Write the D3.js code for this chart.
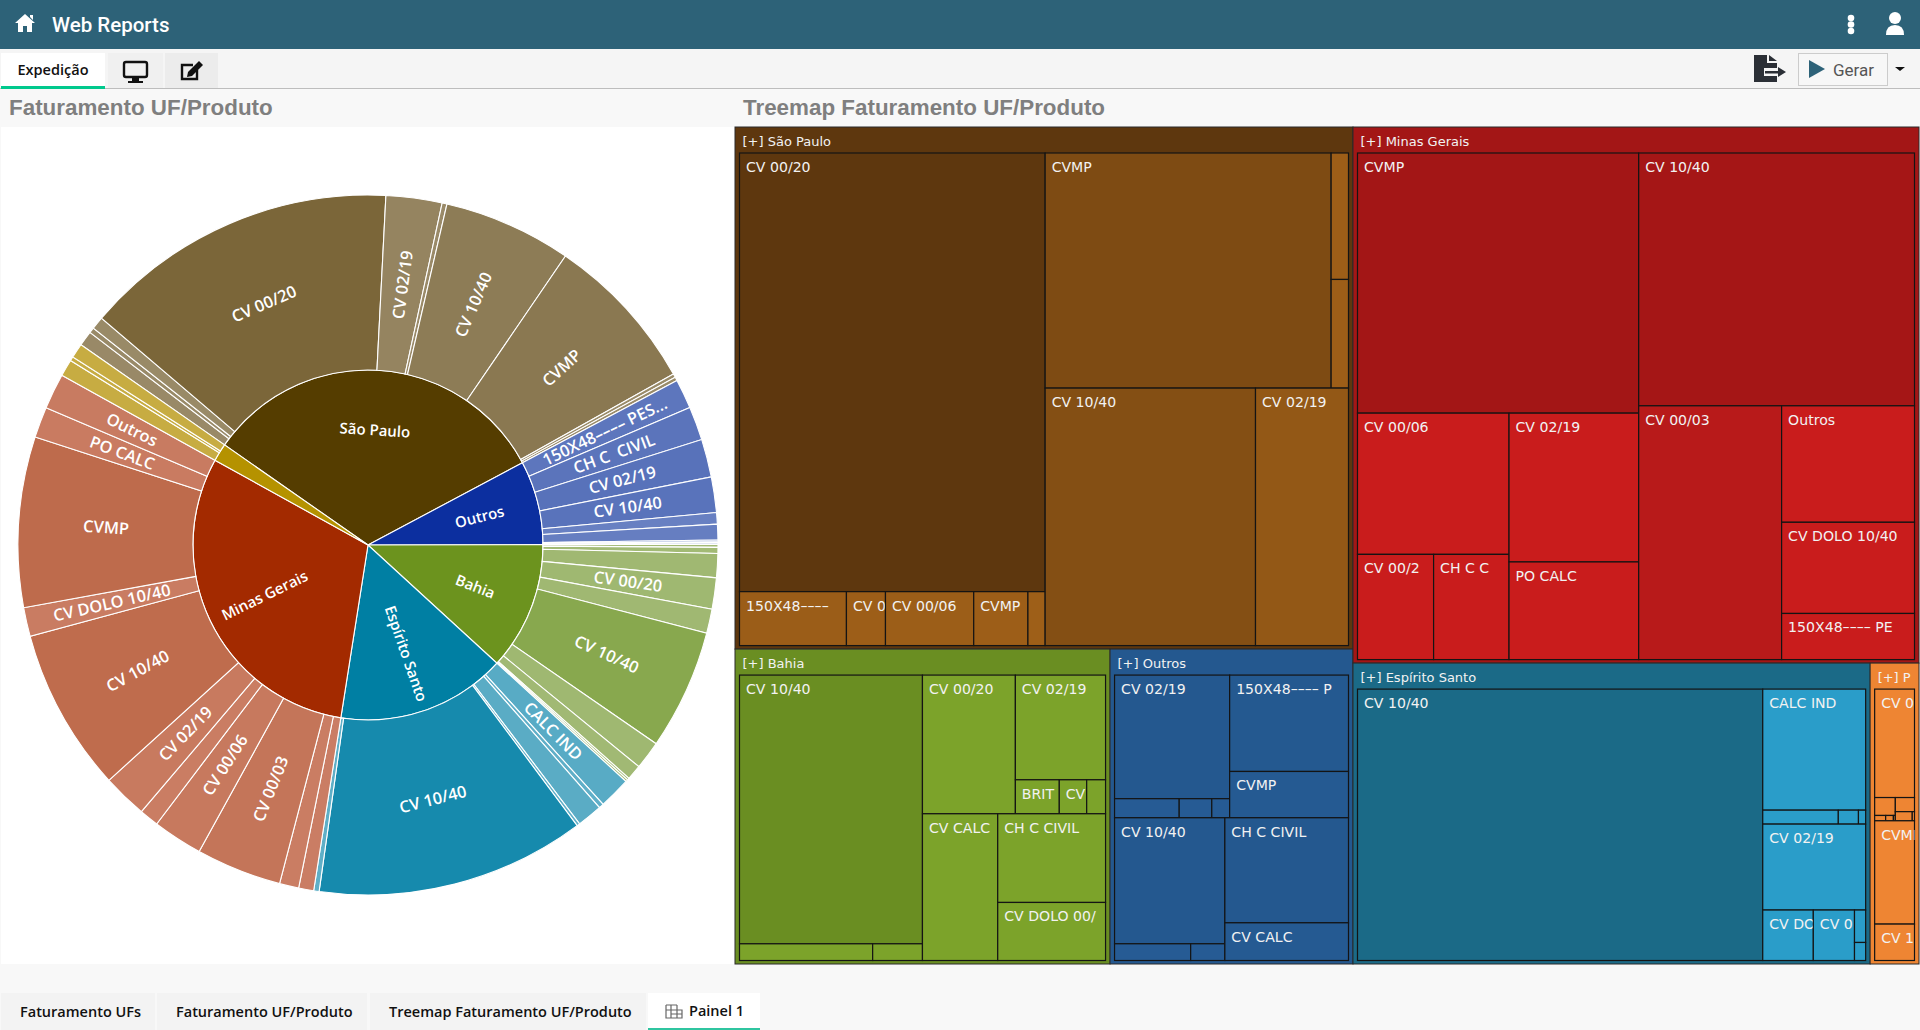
<!DOCTYPE html>
<html lang="pt-BR">
<head>
<meta charset="utf-8">
<title>Web Reports</title>
<script src="https://cdn.jsdelivr.net/npm/d3@7/dist/d3.min.js"></script>
<style>
  html, body { margin: 0; padding: 0; width: 1920px; height: 1030px; overflow: hidden; background: #f8f8f8; font-family: "Open Sans", sans-serif; }
  .abs { position: absolute; white-space: nowrap; }
  #topbar { left: 0; top: 0; width: 1920px; height: 49px; background: #2d6278; }
  #toolbar { left: 0; top: 49px; width: 1920px; height: 39px; background: #f5f5f5; border-bottom: 1px solid #bdbdbd; }
  .title { font-family: "Liberation Sans", Arial, sans-serif; font-weight: 700; font-size: 22.4px; color: #7f7f7f; }
  .tab { top: 993px; height: 37px; background: #f3f3f3; font: 600 14.5px "Open Sans", sans-serif; color: #111; line-height: 38px; box-sizing: border-box; }
  svg { position: absolute; overflow: visible; }
  #charts text { pointer-events: none; }
</style>
</head>
<body>
<div id="topbar" class="abs"></div>
<div class="abs" style="left:52px;top:13px;font:500 20.5px Roboto,sans-serif;color:#fff">Web Reports</div>
<div id="toolbar" class="abs"></div>
<div class="abs" style="left:1px;top:53px;width:104px;height:33px;background:#fff;border-bottom:3px solid #00c98d;text-align:center;font:600 14.5px/34px 'Open Sans',sans-serif;color:#111">Expedição</div>
<div class="abs" style="left:108px;top:53px;width:55px;height:35px;background:#f0f0f0"></div>
<div class="abs" style="left:165px;top:53px;width:53px;height:35px;background:#ececec"></div>
<div class="abs" style="left:1798px;top:53px;width:88px;height:31px;border:1px solid #ccc;background:#f7f7f7"></div>
<div class="abs" style="left:1833px;top:60px;font:17px Roboto,sans-serif;color:#555">Gerar</div>
<div class="abs title" style="left:9px;top:95px">Faturamento UF/Produto</div>
<div class="abs title" style="left:743px;top:95px">Treemap Faturamento UF/Produto</div>
<div class="abs" style="left:1px;top:127px;width:734px;height:837px;background:#fff"></div>
<div class="abs tab" style="left:1px;width:154px;padding-left:19px">Faturamento UFs</div>
<div class="abs tab" style="left:157px;width:210px;padding-left:19px">Faturamento UF/Produto</div>
<div class="abs tab" style="left:370px;width:276px;padding-left:19px">Treemap Faturamento UF/Produto</div>
<div class="abs tab" style="left:648px;width:112px;padding-left:41px;background:#fff;border-bottom:2px solid #2fc5a0;line-height:36px">Painel 1</div>
<svg id="icons" width="1920" height="1030" style="left:0;top:0"></svg>
<svg id="charts" width="1920" height="1030" style="left:0;top:0"></svg>

<script>
// ---- sunburst data: slice sizes (degrees of the ring) ----
const ufNames = ["São Paulo", "Outros", "Bahia", "Espírito Santo", "Minas Gerais", "Paraná"];

const spProducts = ["", "", "", "CV 00/20", "CV 02/19", "", "CV 10/40", "CVMP", "", ""];
const spShares = [2.5, 0.9, 2.1, 52.5, 9.3, 0.8, 21.3, 26.4, 0.6, 0.6];

const outrosProducts = ["150X48–––– PES...", "CH C  CIVIL", "CV 02/19", "CV 10/40", "", "", "", "", ""];
const outrosShares = [4.9, 5.6, 6.3, 5.9, 1.9, 2.6, 0.3, 0.2, 0.2];

const bahiaProducts = ["", "", "", "CV 00/20", "", "CV 10/40", "", "", "", ""];
const bahiaShares = [0.5, 1.0, 4.0, 5.2, 4.0, 20.0, 4.7, 2.5, 0.35, 0.35];

const esProducts = ["CALC IND", "", "", "", "CV 10/40", ""];
const esShares = [5.3, 0.8, 4.2, 0.5, 44.7, 0.9];

const mgProducts = ["", "", "CV 00/03", "CV 00/06", "", "CV 02/19", "CV 10/40", "CV DOLO 10/40", "CVMP", "PO CALC", "Outros"];
const mgShares = [2.5, 3.2, 14.2, 8.3, 3.2, 7.4, 27.1, 4.8, 28.3, 5.1, 5.9];

const prProducts = ["", "", ""];
const prShares = [2.8, 0.7, 2.4];

// ---- treemap data: one value per cell, plus the nesting of the cells ----
const regionNames = ["São Paulo", "Bahia", "Outros", "Minas Gerais", "Espírito Santo", "P"];
const regionValues = [322.6, 118.1, 76.5, 303.4, 155.6, 14.7];

const spCells = ["CV 00/20", "150X48––––", "CV 0", "CV 00/06", "CVMP", "", "CVMP", "", "", "CV 10/40", "CV 02/19"];
const spValues = [134.4, 5.78, 2.11, 4.77, 2.93, 0.93, 67.4, 2.2, 1.89, 54.3, 24.0];
const spNesting = [[0, [1, 2, 3, 4, 5]], [[6, [7, 8]], [9, 10]]];

const bahiaCells = ["CV 10/40", "", "", "CV 00/20", "CV 02/19", "BRIT", "CV", "", "CV CALC", "CH C CIVIL", "CV DOLO 00/"];
const bahiaValues = [49.1, 2.22, 0.83, 12.87, 9.43, 1.49, 0.93, 0.64, 11.03, 9.55, 6.25];
const bahiaNesting = [[0, [1, 2]], [[3, [4, [5, 6, 7]]], [8, [9, 10]]]];

const outrosCells = ["CV 02/19", "", "", "", "150X48–––– P", "CVMP", "CV 10/40", "", "", "CH C CIVIL", "CV CALC"];
const outrosValues = [14.2, 1.23, 0.62, 0.34, 11.43, 5.49, 13.87, 1.27, 0.57, 12.96, 4.65];
const outrosNesting = [[[[0, [1, 2, 3]], [4, 5]], [[6, [7, 8]], [9, 10]]]];

const mgCells = ["CVMP", "CV 00/06", "CV 00/2", "CH C C", "CV 02/19", "PO CALC", "CV 10/40", "CV 00/03", "Outros", "CV DOLO 10/40", "150X48–––– PE"];
const mgValues = [72.8, 21.3, 7.97, 7.9, 19.2, 12.6, 69.4, 36.1, 15.4, 12.06, 6.1];
const mgNesting = [[0, [[1, [2, 3]], [4, 5]]], [6, [7, [8, 9, 10]]]];

const esCells = ["CV 10/40", "CALC IND", "", "", "", "CV 02/19", "CV DO", "CV 0", "", ""];
const esValues = [109.5, 12.4, 1.05, 0.28, 0.10, 8.8, 2.54, 2.07, 0.36, 0.2];
const esNesting = [0, [1, [2, 3, 4], 5, [6, 7, [8, 9]]]];

const prCells = ["CV 0", "", "", "", "", "", "", "", "CVMP", "CV 1"];
const prValues = [4.2, 0.36, 0.057, 0.04, 0.01, 0.263, 0.15, 0.02, 4.0, 1.41];
const prNesting = [[0, [[1, [2, 3, 4]], [5, [6, 7]]], 8, 9]];

// ---- colours ----
const ringColors = {
  "São Paulo": { fill: "#553d00", domain: [0, 52.5], range: ["#9a8b69", "#7b6639"] },
  "Outros": { fill: "#0c2f9f", domain: [0, 6.3], range: ["#6f86c6", "#5872ba"] },
  "Bahia": { fill: "#6c931e", domain: [0, 5.2, 20], range: ["#a3ba76", "#9fb871", "#88a84e"] },
  "Espírito Santo": { fill: "#007fa3", domain: [0, 44.7], range: ["#61b0c8", "#168aad"] },
  "Minas Gerais": { fill: "#a32a00", domain: [0, 28.3], range: ["#cb7f66", "#be6b4c"] },
  "Paraná": { fill: "#b59200", domain: [0, 3], range: ["#c7ac42", "#c7ac42"] }
};
const cellColors = {
  "São Paulo": { head: "#5e370e", domain: [0, 134.4], range: ["#9e5f18", "#5e370e"] },
  "Bahia": { head: "#6a8e22", domain: [12.87, 49.1], range: ["#7ca32a", "#6a8e22"] },
  "Outros": { head: "#24588f", domain: [0, 14.2], range: ["#265b94", "#24588f"] },
  "Minas Gerais": { head: "#a31616", domain: [21.3, 36.1, 72.8], range: ["#c91c1c", "#b81a1a", "#a31616"] },
  "Espírito Santo": { head: "#1b6a87", domain: [12.4, 109.5], range: ["#2a9dc9", "#1b6a87"] },
  "P": { head: "#ee8533", domain: [0, 5], range: ["#ee8533", "#ee8533"] }
};

const charts = d3.select("#charts");

// ---- sunburst ----
const sunburst = {
  cx: 368,
  cy: 545,
  ring: 175,
  startAngle: -55.1 * Math.PI / 180,
  tree() {
    const rings = [
      [spProducts, spShares], [outrosProducts, outrosShares], [bahiaProducts, bahiaShares],
      [esProducts, esShares], [mgProducts, mgShares], [prProducts, prShares]
    ];
    return {
      children: ufNames.map((name, i) => ({
        name: name,
        uf: name,
        children: rings[i][0].map((product, j) => ({ name: product, uf: name, share: rings[i][1][j] }))
      }))
    };
  },
  draw() {
    const that = this;
    const root = d3.partition().size([1, this.ring * 3])(
      d3.hierarchy(this.tree()).sum(d => d.share)
    );
    const angle = d3.scaleLinear().domain([0, 1]).range([this.startAngle, this.startAngle + 2 * Math.PI]);
    const radius = d3.scaleLinear().domain([this.ring, this.ring * 3]).range([0, this.ring * 2]);
    const arc = d3.arc()
      .startAngle(d => angle(d.x0))
      .endAngle(d => angle(d.x1))
      .innerRadius(d => radius(d.y0))
      .outerRadius(d => radius(d.y1));

    const shade = {};
    Object.keys(ringColors).forEach(function(key) {
      shade[key] = d3.scaleLinear().domain(ringColors[key].domain).range(ringColors[key].range).clamp(true);
    });

    const g = charts.append("g").attr("transform", `translate(${this.cx},${this.cy})`);
    const nodes = root.descendants().filter(d => d.depth > 0);

    g.selectAll("path")
      .data(nodes)
      .enter()
      .append("path")
      .attr("d", arc)
      .attr("fill", d => d.depth === 1 ? ringColors[d.data.uf].fill : shade[d.data.uf](d.value))
      .attr("stroke", "#fff")
      .attr("stroke-width", 1.1);

    // big slices get the label along the arc, the others along the radius
    g.selectAll("text")
      .data(nodes.filter(d => d.data.name && (d.depth === 2 || d.data.uf !== "Paraná")))
      .enter()
      .append("text")
      .attr("transform", function(d) {
        const a0 = angle(d.x0), a1 = angle(d.x1);
        const mid = (a0 + a1) / 2;
        const r = d.depth === 1 ? 115 : that.ring * 1.5;
        const midR = d.depth === 1 ? that.ring / 2 : that.ring * 1.5;
        let deg = (mid * 180 / Math.PI + 360) % 360;
        let rot;
        if ((a1 - a0) * midR > that.ring) {
          rot = deg > 270 ? deg - 360 : deg > 90 ? deg - 180 : deg;
        } else {
          rot = deg > 180 ? deg - 270 : deg - 90;
        }
        return `translate(${r * Math.sin(mid)},${-r * Math.cos(mid)}) rotate(${rot})`;
      })
      .attr("text-anchor", "middle")
      .attr("dy", "0.35em")
      .attr("fill", "#fff")
      .style("font", d => `600 ${d.depth === 1 ? 15 : 16.4}px "Open Sans", sans-serif`)
      .style("white-space", "pre")
      .text(d => d.data.name);
  }
};

// ---- treemap ----
const treemap = {
  x: 735,
  y: 127,
  width: 1184,
  height: 837,
  regionNesting: [[0, [1, 2]], [3, [4, 5]]],
  pad: { left: 4.5, right: 4.5, top: 26, bottom: 3.5 },
  cells() {
    return [
      [spCells, spValues, spNesting], [bahiaCells, bahiaValues, bahiaNesting],
      [outrosCells, outrosValues, outrosNesting], [mgCells, mgValues, mgNesting],
      [esCells, esValues, esNesting], [prCells, prValues, prNesting]
    ];
  },
  // turns a list of nested indexes into a d3.hierarchy input
  nest(item, labels, values) {
    if (typeof item === "number") return { label: labels[item], value: values[item] };
    return { children: item.map(c => this.nest(c, labels, values)) };
  },
  layout(item, labels, values, w, h) {
    const root = d3.hierarchy(this.nest(item, labels, values)).sum(d => d.value);
    return d3.treemap().tile(d3.treemapSliceDice).size([w, h])(root);
  },
  draw() {
    const that = this;
    const cells = this.cells();
    const regions = this.layout(this.regionNesting, regionNames, regionValues, this.width, this.height).leaves();
    const g = charts.append("g").attr("transform", `translate(${this.x},${this.y})`);
    let clipId = 0;

    regions.forEach(function(region, i) {
      const name = regionNames[i];
      const style = cellColors[name];
      const shade = d3.scaleLinear().domain(style.domain).range(style.range).clamp(true);
      const w = region.x1 - region.x0;
      const h = region.y1 - region.y0;
      const rg = g.append("g").attr("transform", `translate(${region.x0},${region.y0})`);

      rg.append("rect")
        .attr("width", w)
        .attr("height", h)
        .attr("fill", style.head)
        .attr("stroke", "#2a2a2a")
        .attr("stroke-width", 1);

      const headId = "clip" + (clipId++);
      rg.append("clipPath").attr("id", headId).append("rect").attr("width", w).attr("height", 26);
      rg.append("text")
        .attr("clip-path", `url(#${headId})`)
        .attr("x", 7.5)
        .attr("y", 19)
        .attr("fill", "#f2f2f2")
        .style("font", '13px "DejaVu Sans", sans-serif')
        .text("[+] " + name);

      const inner = rg.append("g").attr("transform", `translate(${that.pad.left},${that.pad.top})`);
      const leaves = that.layout(cells[i][2], cells[i][0], cells[i][1],
        w - that.pad.left - that.pad.right, h - that.pad.top - that.pad.bottom).leaves();

      const cell = inner.selectAll("g")
        .data(leaves)
        .enter()
        .append("g")
        .attr("transform", d => `translate(${d.x0},${d.y0})`);

      cell.append("rect")
        .attr("width", d => d.x1 - d.x0)
        .attr("height", d => d.y1 - d.y0)
        .attr("fill", d => shade(d.value))
        .attr("stroke", "#141414")
        .attr("stroke-width", 1.2);

      cell.each(function(d) {
        if (!d.data.label) return;
        const id = "clip" + (clipId++);
        const one = d3.select(this);
        one.append("clipPath").attr("id", id)
          .append("rect").attr("width", d.x1 - d.x0).attr("height", d.y1 - d.y0);
        one.append("text")
          .attr("clip-path", `url(#${id})`)
          .attr("x", 6.5)
          .attr("y", 19)
          .attr("fill", "#f2f2f2")
          .style("font", '14.1px "DejaVu Sans", sans-serif')
          .text(d.data.label);
      });
    });
  }
};

sunburst.draw();
treemap.draw();

// ---- toolbar icons ----
const icons = d3.select("#icons");
icons.append("path").attr("fill", "#fff")
  .attr("d", "M25 14 L15 23 H18 V32 H23 V26 H27 V32 H32 V23 H35 Z M30 15 H33 V20 L30 17 Z");
[14, 20.5, 27].forEach(y => icons.append("circle").attr("cx", 1851).attr("cy", y + 4).attr("r", 3.3).attr("fill", "#fff"));
icons.append("circle").attr("cx", 1895).attr("cy", 18).attr("r", 6).attr("fill", "#fff");
icons.append("path").attr("fill", "#fff").attr("d", "M1886 35 Q1886 25 1895 25 Q1904 25 1904 35 Z");
// monitor
icons.append("rect").attr("x", 124).attr("y", 62).attr("width", 23).attr("height", 15).attr("rx", 2)
  .attr("fill", "none").attr("stroke", "#111").attr("stroke-width", 2.4);
icons.append("path").attr("fill", "#111").attr("d", "M132 78 H139 V81 H143 V83 H128 V81 H132 Z");
// edit
icons.append("path").attr("fill", "none").attr("stroke", "#111").attr("stroke-width", 2.4)
  .attr("d", "M193 65 H182 V79 H197 V70");
icons.append("path").attr("fill", "#111").attr("d", "M188 72 L199 61 L203 65 L192 76 L187 77 Z");
// export file
icons.append("path").attr("fill", "#2b2f36")
  .attr("d", "M1754 55 H1767 V63 H1777 V82 H1754 Z M1769 55 L1777 61 H1769 Z");
icons.append("rect").attr("x", 1764).attr("y", 68).attr("width", 14).attr("height", 8).attr("fill", "#f5f5f5");
icons.append("path").attr("fill", "#2b2f36").attr("d", "M1765 71 H1778 V67 L1786 72 L1778 77 V73.5 H1765 Z");
// play and caret
icons.append("path").attr("fill", "#2d6278").attr("d", "M1809 60 L1825 69 L1809 78 Z");
icons.append("path").attr("fill", "#111").attr("d", "M1895 67 H1905 L1900 71 Z");
// grid icon of the active tab
icons.append("path").attr("fill", "none").attr("stroke", "#666").attr("stroke-width", 1.2)
  .attr("d", "M666 1005 H677 M666 1005 V1018 H682 V1010 H671 V1018 M677 1005 V1018 M666 1010 H671 M671 1014 H682 M677 1005 H671 V1010");
</script>
</body>
</html>
